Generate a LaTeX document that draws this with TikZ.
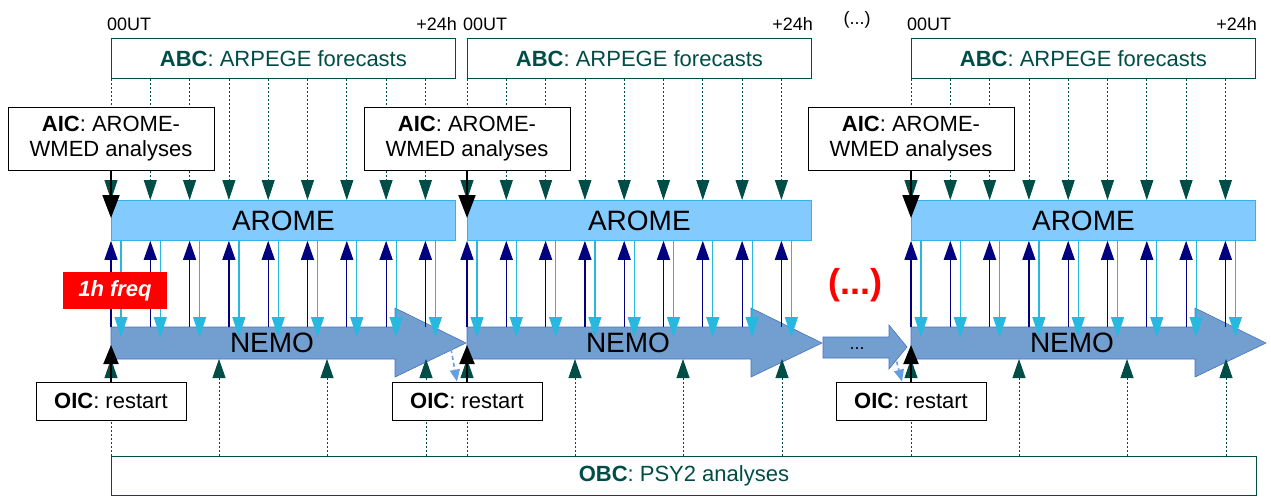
\documentclass[tikz,border=0pt]{standalone}
\usepackage{fontspec}
\setmainfont{Liberation Sans}
\usetikzlibrary{arrows.meta}

\definecolor{forcgreen}{RGB}{0,77,71}
\definecolor{aromefill}{RGB}{131,202,255}
\definecolor{aromeline}{RGB}{52,180,230}
\definecolor{nemofill}{RGB}{114,159,207}
\definecolor{nemoline}{RGB}{70,114,196}
\definecolor{couplenavy}{RGB}{0,0,128}
\definecolor{couplecyan}{RGB}{38,184,222}
\definecolor{restartblue}{RGB}{100,160,225}

\tikzset{
  abcbox/.style={draw=forcgreen, fill=white, text=forcgreen, line width=0.8pt,
    minimum width=344pt, minimum height=40pt, inner sep=0pt, anchor=north west,
    font=\fontsize{22}{26}\selectfont},
  obcbox/.style={abcbox, minimum width=1145pt, minimum height=39pt},
  aromebox/.style={draw=aromeline, fill=aromefill, line width=0.8pt,
    minimum width=344pt, minimum height=40pt, inner sep=0pt, anchor=north west,
    font=\fontsize{28}{32}\selectfont},
  icbox/.style={draw=black, fill=white, line width=0.8pt, align=center, inner sep=0pt,
    font=\fontsize{22}{25}\selectfont},
  timelabel/.style={inner sep=0pt, font=\fontsize{18}{20}\selectfont},
  nemoarrow/.style={fill=nemofill, draw=nemoline, line width=0.6pt},
  abcarrow/.style={forcgreen, line width=0.8pt, dash pattern=on 2pt off 2pt,
    -{Triangle[length=20pt,width=13pt]}},
  obcarrow/.style={abcarrow, -{Triangle[length=19pt,width=13pt]}},
  uparrow/.style={couplenavy, line width=1.2pt, -{Triangle[length=19pt,width=13pt]}},
  downarrow/.style={couplecyan, line width=1.2pt, -{Triangle[length=20pt,width=13pt]}},
  icarrow/.style={black, line width=2pt, -{Triangle[length=23pt,width=17pt]}},
  restartarrow/.style={restartblue, line width=1.6pt, dash pattern=on 4pt off 3pt,
    -{Triangle[length=12pt,width=10pt]}},
  freqbox/.style={fill=red, text=white, minimum width=104pt, minimum height=37pt,
    inner sep=0pt, font=\fontsize{22}{25}\selectfont\bfseries\itshape}
}

\begin{document}
\begin{tikzpicture}[x=1pt, y=-1pt]
  \useasboundingbox (0,0) rectangle (1271,496);

  \node[obcbox] (obc) at (111,456) {\textbf{OBC}: PSY2 analyses};

  % one 24h cycle per pass
  \foreach \b/\o in {1/0,2/356,3/800}{
    \pgfmathsetmacro\xa{111+\o}
    \node[abcbox] (abc\b) at (\xa,38) {\textbf{ABC}: ARPEGE forecasts};
    \node[timelabel, anchor=base west] (start\b) at (\xa-4,30) {00UT};
    \node[timelabel, anchor=base east] (end\b) at (\xa+346,30) {+24h};
    \node[aromebox] (arome\b) at (\xa,200) {AROME};
    \filldraw[nemoarrow] (\xa,327) coordinate (nemotop\b) -- ++(284,0) -- ++(0,-19)
      -- ++(71,35) -- ++(-71,34) -- ++(0,-18) -- (\xa,359) coordinate (nemobot\b) -- cycle;
    \node[font=\fontsize{28}{32}\selectfont] (nemo\b) at (\xa+161,343) {NEMO};
    \coordinate (restart\b) at (\xa+340,349);
    \foreach \k in {0,...,8}{
      \pgfmathsetmacro\xk{\xa+39.3*\k}
      \draw[abcarrow] (\xk,0 |- abc\b.south) -- (\xk,0 |- arome\b.north);
      \draw[uparrow] (\xk,0 |- nemotop\b) -- (\xk,0 |- arome\b.south);
      \draw[downarrow, shorten >=-10pt] (\xk+10,0 |- arome\b.south) -- (\xk+10,0 |- nemotop\b);
    }
    \foreach \d in {0,108,216,315}{
      \draw[obcarrow] (\xa+\d,0 |- obc.north) -- (\xa+\d,0 |- nemobot\b);
    }
    \node[icbox, minimum width=206pt, minimum height=63pt] (aic\b) at (\xa,138.5)
      {\textbf{AIC}: AROME-\\WMED analyses};
    \draw[icarrow, shorten >=-18pt] (aic\b) -- (arome\b.north west);
    \node[icbox, minimum width=150pt, minimum height=38pt] (oic\b) at (\xa,401)
      {\textbf{OIC}: restart};
    \draw[icarrow, -{Triangle[length=19pt,width=15pt]}, shorten >=-14pt] (oic\b) -- (nemobot\b);
  }

  % gap between cycles
  \filldraw[nemoarrow] (823,337) -- (889,337) -- (889,325) -- (907,347) -- (889,369)
    -- (889,358) -- (823,358) -- cycle;
  \node[timelabel] (gapdots) at (857,349) {...};
  \coordinate (gaptip) at (893,348);
  \node[timelabel] (gaptop) at (857,20) {(...)};
  \node[text=red, font=\fontsize{36}{40}\selectfont\bfseries] (gapred) at (855,285) {(...)};

  \draw[restartarrow] (restart1) -- (457,0 |- oic2.north);
  \draw[restartarrow] (gaptip) -- (902,0 |- oic3.north);

  \node[freqbox] (freq) at (115,290.5) {1h freq};
\end{tikzpicture}
\end{document}
